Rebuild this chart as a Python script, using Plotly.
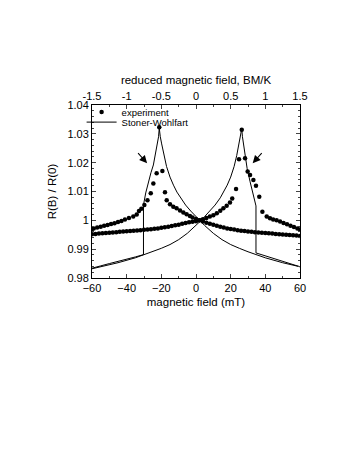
import plotly.graph_objects as go

# Stoner-Wohlfart model, field swept down (+60 -> -60 mT)
sw_down_B = [60, 50, 40, 35, 30, 25, 20, 15, 10, 5, 2.5, 0, -3, -6, -9, -11, -13, -15, -17, -18.5,
             -19.8, -20.6, -21.2, -21.6, -22.3, -23.5, -24.6, -26, -27.5, -29, -30.3, -30.3,
             -35, -40, -45, -50, -55, -60]
sw_down_R = [0.9839, 0.9853, 0.9870, 0.9880, 0.9891, 0.9903, 0.9916, 0.9933, 0.9955, 0.9982, 0.9997,
             1.0013, 1.0032, 1.0053, 1.0078, 1.0098, 1.0122, 1.0150, 1.0187, 1.0225,
             1.0265, 1.0290, 1.0320, 1.0290, 1.0270, 1.0225, 1.0192, 1.0165, 1.0134, 1.0095, 1.0053, 0.9881,
             0.9873, 0.9866, 0.9858, 0.9850, 0.9842, 0.9834]

# Stoner-Wohlfart model, field swept up (-60 -> +60 mT)
sw_up_B = [-60, -55, -45, -35, -30.3, -25, -20, -15, -10, -5, 0, 2.5, 5, 8, 11, 14, 16, 18, 20, 22,
           23.5, 24.8, 25.6, 26.4, 26.8, 27.4, 28, 29.5, 31.2, 32.5, 33.6, 34.6, 34.6,
           40, 45, 50, 55, 60]
sw_up_R = [0.9832, 0.9839, 0.9853, 0.9870, 0.9880, 0.9891, 0.9903, 0.9916, 0.9933, 0.9955, 0.9982,
           0.9997, 1.0013, 1.0032, 1.0053, 1.0078, 1.0098, 1.0122, 1.0150, 1.0187,
           1.0225, 1.0265, 1.0290, 1.0318, 1.0290, 1.0265, 1.0225, 1.0180, 1.0134, 1.0105, 1.0076, 1.0050, 0.9887,
           0.9877, 0.9868, 0.9858, 0.9848, 0.9839]

# measured R(B)/R(0), sweep up
exp_up_B = [-60, -58, -56, -54, -52, -50, -48, -46, -44, -42, -40, -38, -36, -34, -32, -30, -28, -26,
            -24, -22, -20, -18, -16, -14, -12, -10, -8, -6, -4, -2, 0, 2, 4, 6, 8, 10, 12, 14,
            15.8, 17.7, 19.6, 20.9, 23.1, 24.8, 26.4, 28.3, 29.8, 31.2, 33.1, 34.6, 36.5, 38.3,
            40.8, 42.7, 44.5, 46.5, 48.5, 50.5, 52.5, 54.5, 56.5, 58.5, 60]
exp_up_R = [0.9952, 0.9953, 0.9954, 0.9955, 0.9956, 0.9957, 0.9958, 0.9959, 0.9960, 0.9961, 0.9962,
            0.9963, 0.9964, 0.9965, 0.9966, 0.9967, 0.9968, 0.9969, 0.9971, 0.9972, 0.9974, 0.9976,
            0.9978, 0.9980, 0.9983, 0.9985, 0.9988, 0.9991, 0.9993, 0.9995, 0.9997, 1.0000, 1.0004,
            1.0008, 1.0013, 1.0018, 1.0025, 1.0033, 1.0042, 1.0051, 1.0062, 1.0076, 1.0109, 1.0212,
            1.0314, 1.0215, 1.0169, 1.0157, 1.0140, 1.0120, 1.0082, 1.0030, 1.0013, 1.0007, 1.0003,
            1.0000, 0.9996, 0.9991, 0.9986, 0.9981, 0.9977, 0.9972, 0.9968]

# measured R(B)/R(0), sweep down
exp_down_B = [60, 58, 56, 54, 52, 50, 48, 46, 44, 42, 40, 38, 36, 34, 32, 30, 28, 26, 24, 22, 20,
              18, 16, 14, 12, 10, 8, 6, 4, 2, 0, -2, -3.5, -5.4, -7.3, -9.2, -11.2, -13.1, -15,
              -16.9, -17.9, -19.4, -21.2, -22.7, -24.6, -26.1, -28, -29.8, -31.5, -32.9, -34.2,
              -36.2, -38.7, -41, -43, -45, -47, -49, -51, -53, -55, -57, -59, -60]
exp_down_R = [0.9946, 0.9947, 0.9948, 0.9949, 0.9950, 0.9951, 0.9952, 0.9953, 0.9954, 0.9955, 0.9956,
              0.9957, 0.9958, 0.9959, 0.9960, 0.9961, 0.9963, 0.9964, 0.9966, 0.9968, 0.9970, 0.9972,
              0.9975, 0.9978, 0.9981, 0.9985, 0.9988, 0.9992, 0.9996, 1.0000, 1.0005, 1.0010, 1.0015,
              1.0021, 1.0027, 1.0034, 1.0042, 1.0047, 1.0056, 1.0070, 1.0097, 1.0171, 1.0323, 1.0163,
              1.0128, 1.0094, 1.0070, 1.0053, 1.0040, 1.0032, 1.0020, 1.0013, 1.0008, 1.0003, 0.9998,
              0.9994, 0.9990, 0.9987, 0.9984, 0.9981, 0.9978, 0.9975, 0.9972, 0.9970]

top_ticks = [-1.5, -1, -0.5, 0, 0.5, 1, 1.5]
top_labels = ["-1.5", "-1", "-0.5", "0", "0.5", "1", "1.5"]

font = "Liberation Sans, Arial, sans-serif"

fig = go.Figure()
fig.add_trace(go.Scatter(x=exp_up_B, y=exp_up_R, mode="markers", name="experiment",
                         marker=dict(color="black", size=4.5), legend="legend"))
fig.add_trace(go.Scatter(x=exp_down_B, y=exp_down_R, mode="markers", name="experiment",
                         marker=dict(color="black", size=4.5), showlegend=False))
fig.add_trace(go.Scatter(x=sw_up_B, y=sw_up_R, mode="lines", name="Stoner-Wohlfart",
                         line=dict(color="black", width=1), legend="legend2"))
fig.add_trace(go.Scatter(x=sw_down_B, y=sw_down_R, mode="lines", name="Stoner-Wohlfart",
                         line=dict(color="black", width=1), showlegend=False))
# empty trace so the reduced-field axis on top gets drawn
fig.add_trace(go.Scatter(x=[], y=[], xaxis="x2", showlegend=False, hoverinfo="skip"))

# arrows marking the shoulders
fig.add_annotation(x=-28.2, y=1.0198, ax=-34.2, ay=1.0238, axref="x", ayref="y", text="",
                   showarrow=True, arrowhead=2, arrowsize=1.4, arrowwidth=1.1, arrowcolor="black")
fig.add_annotation(x=32.7, y=1.0198, ax=38.7, ay=1.0238, axref="x", ayref="y", text="",
                   showarrow=True, arrowhead=2, arrowsize=1.4, arrowwidth=1.1, arrowcolor="black")

fig.update_layout(
    width=345, height=449,
    margin=dict(l=84, r=53, t=97, b=179, autoexpand=False),
    paper_bgcolor="white", plot_bgcolor="white",
    font=dict(family=font, size=11, color="black"),
    showlegend=True,
    legend=dict(x=-0.05, y=1.044, xanchor="left", yanchor="top", bgcolor="rgba(0,0,0,0)",
                font=dict(size=9.5), itemwidth=30, tracegroupgap=0),
    legend2=dict(x=-0.05, y=0.985, xanchor="left", yanchor="top", bgcolor="rgba(0,0,0,0)",
                 font=dict(size=9.5), itemwidth=30, tracegroupgap=0),
    xaxis=dict(range=[-60, 60], dtick=20, ticks="inside", ticklen=4, showline=True,
               linecolor="black", linewidth=1, showgrid=False, zeroline=False,
               minor=dict(dtick=10, ticks="inside", ticklen=2),
               title=dict(text="magnetic field (mT)", standoff=4, font=dict(size=11.5))),
    xaxis2=dict(range=[-1.5, 1.5], overlaying="x", side="top", tickvals=top_ticks,
                ticktext=top_labels, ticks="inside", ticklen=4, showline=True,
                linecolor="black", linewidth=1, showgrid=False, zeroline=False,
                minor=dict(dtick=0.25, ticks="inside", ticklen=2),
                title=dict(text="reduced magnetic field, BM/K", standoff=2, font=dict(size=11.5))),
    yaxis=dict(range=[0.98, 1.04], dtick=0.01, ticks="inside", ticklen=4, showline=True,
               linecolor="black", linewidth=1, mirror="ticks", showgrid=False, zeroline=False,
               minor=dict(dtick=0.002, ticks="inside", ticklen=2),
               title=dict(text="R(B) / R(0)", standoff=8, font=dict(size=11.5))),
)

fig.write_html("out.html")
